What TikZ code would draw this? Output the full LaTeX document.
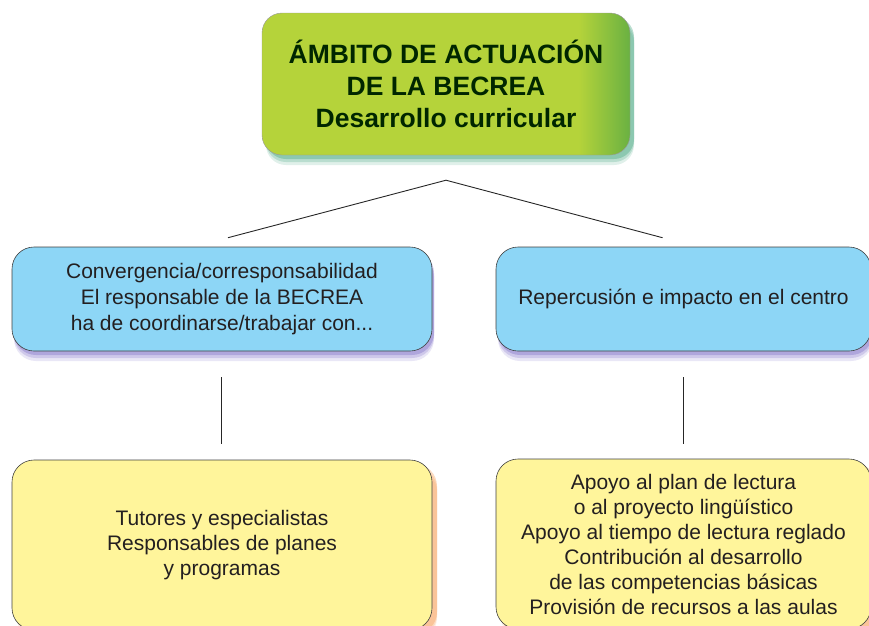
\documentclass[tikz,border=0pt]{standalone}
\usepackage{fontspec}
\setmainfont{Liberation Sans}
\usepackage{xcolor}
\usetikzlibrary{shadows}
\definecolor{becgreen}{HTML}{B5D33A}
\definecolor{becgreendark}{HTML}{6AB142}
\definecolor{becblue}{HTML}{8DD6F6}
\definecolor{becyellow}{HTML}{FFF59B}
\definecolor{bectext}{HTML}{231F20}
\definecolor{becviolet}{HTML}{6E5CC0}
\definecolor{becteal}{HTML}{2E9A70}
\definecolor{becorange}{HTML}{F59445}
\pgfdeclarehorizontalshading{becshade}{100bp}{color(0bp)=(becgreen); color(68bp)=(becgreen); color(75bp)=(becgreendark); color(100bp)=(becgreendark)}
\tikzset{
    soft-shadow/.style = {
        drop shadow={shadow xshift=#1, shadow yshift=-10pt, fill=becshadow, opacity=.15},
        drop shadow={shadow xshift=#1, shadow yshift=-7pt, fill=becshadow, opacity=.22},
        drop shadow={shadow xshift=#1, shadow yshift=-4pt, fill=becshadow, opacity=.32}},
    title-box/.style = {draw=gray!80, thin, rectangle, rounded corners=20pt, inner sep=0pt,
        minimum width=368pt, minimum height=142pt, align=center, text=black!85!green,
        shading=becshade, shading angle=0,
        /utils/exec={\colorlet{becshadow}{becteal}}, soft-shadow=4pt,
        font=\fontsize{26.5}{32}\selectfont\bfseries},
    topic-box/.style = {draw=black!75, line width=0.6pt, fill=becblue, rectangle, rounded corners=22pt, inner sep=0pt,
        minimum height=104pt, align=center, text=bectext,
        /utils/exec={\colorlet{becshadow}{becviolet}}, soft-shadow=2pt,
        font=\fontsize{21}{26}\selectfont},
    detail-box/.style = {draw=black!75, line width=0.6pt, fill=becyellow, rectangle, rounded corners=22pt, inner sep=0pt,
        minimum height=170pt, align=center, text=bectext,
        /utils/exec={\colorlet{becshadow}{becorange}}, soft-shadow=5pt,
        font=\fontsize{21}{25}\selectfont},
    link/.style = {draw=black!85, line width=0.9pt},
}

\begin{document}
\begin{tikzpicture}[x=1pt, y=-1pt]
\useasboundingbox (0,0) rectangle (869,625);

\node [title-box] (ambito) at (446,84) {ÁMBITO DE ACTUACIÓN\\DE LA BECREA\\Desarrollo curricular};

\node [topic-box, minimum width=420pt] (conv) at (222,299)
    {Convergencia/corresponsabilidad\\El responsable de la BECREA\\ha de coordinarse/trabajar con...};
\node [topic-box, minimum width=375pt] (rep) at (683.5,299) {Repercusión e impacto en el centro};

\node [detail-box, minimum width=420pt] (tutores) at (222,545)
    {Tutores y especialistas\\Responsables de planes\\y programas};
\node [detail-box, minimum width=375pt] (apoyo) at (683.5,544)
    {Apoyo al plan de lectura\\o al proyecto lingüístico\\Apoyo al tiempo de lectura reglado\\Contribución al desarrollo\\de las competencias básicas\\Provisión de recursos a las aulas};

% connectors
\coordinate (apex) at ([yshift=-25pt]ambito.south);
\draw [link] ([xshift=6pt, yshift=9pt]conv.north) -- (apex) -- ([xshift=-21pt, yshift=9pt]rep.north);
\draw [link] ([xshift=-1pt, yshift=-26pt]conv.south) -- ([xshift=-1pt, yshift=16pt]tutores.north);
\draw [link] ([yshift=-26pt]rep.south) -- ([yshift=15pt]apoyo.north);
\end{tikzpicture}
\end{document}
